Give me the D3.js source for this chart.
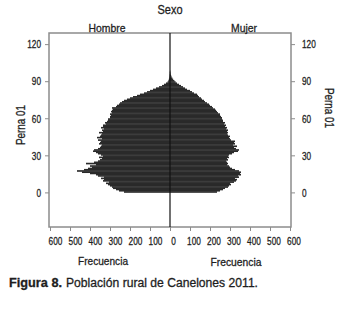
<script src="https://d3js.org/d3.v7.min.js"></script>

<style>
  body { margin: 0; background: #fff; }
  svg text { font-family: "Liberation Sans", Arial, sans-serif; fill: #1e1e1e; stroke: #1e1e1e; stroke-width: 0.3px; }
</style>

<body>
<div id="vis"></div>

<script>
  // ages 0..99 (one bar per year)
  const ages = d3.range(0, 100)

  // Hombre counts per age
  const hombre = [
    230, 255, 270, 285, 290, 300, 310, 320, 305, 335,
    330, 345, 330, 360, 370, 400, 440, 465, 430, 410,
    390, 400, 370, 420, 380, 360, 350, 340, 355, 335,
    345, 360, 370, 385, 380, 360, 350, 345, 340, 355,
    350, 345, 360, 340, 365, 350, 345, 340, 355, 335,
    340, 330, 345, 335, 335, 320, 325, 315, 310, 310,
    300, 300, 295, 300, 290, 295, 290, 285, 290, 270,
    265, 255, 250, 240, 230, 215, 200, 185, 165, 150,
    130, 115, 100, 85, 70, 55, 40, 30, 20, 12,
    8, 6, 4, 3, 2, 2, 1, 1, 0, 0
  ]

  // Mujer counts per age
  const mujer = [
    235, 250, 265, 275, 290, 295, 305, 300, 320, 330,
    335, 325, 345, 340, 355, 350, 355, 345, 325, 310,
    300, 295, 285, 290, 285, 280, 290, 285, 295, 290,
    295, 310, 320, 340, 345, 330, 320, 335, 315, 325,
    320, 325, 305, 300, 295, 300, 290, 285, 290, 285,
    290, 280, 285, 275, 280, 270, 275, 265, 265, 260,
    260, 255, 250, 250, 240, 235, 230, 225, 215, 210,
    200, 195, 185, 175, 170, 160, 155, 145, 140, 135,
    120, 110, 100, 85, 75, 65, 55, 45, 35, 28,
    22, 16, 12, 8, 6, 4, 3, 2, 1, 0
  ]

  const xTicks = [600, 500, 400, 300, 200, 100]
  const yTicks = [0, 30, 60, 90, 120]

  const svg = d3.select('#vis').append('svg')
    .attr('width', 338)
    .attr('height', 309)

  // squeeze text to look like the narrow font of the original
  function fit(sel, w) {
    sel.attr('textLength', w).attr('lengthAdjust', 'spacingAndGlyphs')
    return sel
  }

  // one shared scale, negative side is Hombre
  const x = d3.scaleLinear().domain([-605, 605]).range([49, 291])
  const y = d3.scaleLinear().domain([-28, 129]).range([227, 33])

  const barColor = '#2a2a2a'

  svg.append('g').selectAll('rect')
    .data(ages)
    .enter()
    .append('rect')
      .attr('x', function (d) { return x(-hombre[d]) })
      .attr('y', function (d) { return y(d + 1) })
      .attr('width', function (d) { return x(0) - x(-hombre[d]) })
      .attr('height', function (d) { return y(d) - y(d + 1) + 0.4 })
      .attr('fill', barColor)

  svg.append('g').selectAll('rect')
    .data(ages)
    .enter()
    .append('rect')
      .attr('x', x(0))
      .attr('y', function (d) { return y(d + 1) })
      .attr('width', function (d) { return x(mujer[d]) - x(0) })
      .attr('height', function (d) { return y(d) - y(d + 1) + 0.4 })
      .attr('fill', barColor)

  // frame
  svg.append('rect')
    .attr('x', 49).attr('y', 33)
    .attr('width', 242).attr('height', 194)
    .attr('fill', 'none')
    .attr('stroke', '#8c8c8c')
    .attr('stroke-width', 1.5)

  // centre divider
  svg.append('line')
    .attr('x1', x(0)).attr('x2', x(0))
    .attr('y1', 33).attr('y2', 227)
    .attr('stroke', '#111')
    .attr('stroke-width', 1.2)

  // y axes
  const yLeft = svg.append('g').attr('transform', 'translate(49,0)')
    .call(d3.axisLeft(y).tickValues(yTicks).tickSize(4).tickPadding(4))
  const yRight = svg.append('g').attr('transform', 'translate(291,0)')
    .call(d3.axisRight(y).tickValues(yTicks).tickSize(4).tickPadding(7))

  // x axes (left shows magnitudes of Hombre)
  const xLeft = svg.append('g').attr('transform', 'translate(0,227)')
    .call(d3.axisBottom(x).tickValues(xTicks.map(function (v) { return -v }).concat([0]))
      .tickFormat(function (d) { return Math.abs(d) }).tickSize(4).tickPadding(6))
  const xRight = svg.append('g').attr('transform', 'translate(0,227)')
    .call(d3.axisBottom(x).tickValues(xTicks).tickSize(4).tickPadding(6))

  ;[yLeft, yRight, xLeft, xRight].forEach(function (g) {
    g.select('.domain').remove()
    g.selectAll('line').attr('stroke', '#8c8c8c')
    g.selectAll('text').attr('font-size', 11.8).attr('fill', '#1e1e1e')
      .style('font-family', '"Liberation Sans", Arial, sans-serif')
      .each(function () {
        const t = d3.select(this)
        fit(t, t.text().length * 4.6)
      })
  })
  xLeft.selectAll('text').attr('dx', 5)
  xLeft.selectAll('.tick').filter(function (d) { return d === 0 }).select('text').attr('dx', 3)
  xRight.selectAll('text').attr('dx', 3.5)

  // titles
  fit(svg.append('text').attr('x', 170).attr('y', 14).attr('text-anchor', 'middle')
    .attr('font-size', 12.5).text('Sexo'), 25)
  fit(svg.append('text').attr('x', 107).attr('y', 32).attr('text-anchor', 'middle')
    .attr('font-size', 11.8).text('Hombre'), 37)
  fit(svg.append('text').attr('x', 244).attr('y', 32).attr('text-anchor', 'middle')
    .attr('font-size', 11.8).text('Mujer'), 26)

  fit(svg.append('text').attr('font-size', 12).attr('text-anchor', 'middle')
    .attr('transform', 'translate(25,125) rotate(-90)').text('Perna 01'), 40)
  fit(svg.append('text').attr('font-size', 12).attr('text-anchor', 'middle')
    .attr('transform', 'translate(325,108) rotate(90)').text('Perna 01'), 40)

  fit(svg.append('text').attr('x', 103).attr('y', 265).attr('text-anchor', 'middle')
    .attr('font-size', 11.8).text('Frecuencia'), 50)
  fit(svg.append('text').attr('x', 236).attr('y', 266).attr('text-anchor', 'middle')
    .attr('font-size', 11.8).text('Frecuencia'), 51)

  // caption
  fit(svg.append('text').attr('x', 9).attr('y', 287).attr('font-size', 12.5)
    .attr('font-weight', 'bold').text('Figura 8.'), 53)
  fit(svg.append('text').attr('x', 66).attr('y', 287).attr('font-size', 12.5)
    .text('Población rural de Canelones 2011.'), 192)
</script>
</body>
